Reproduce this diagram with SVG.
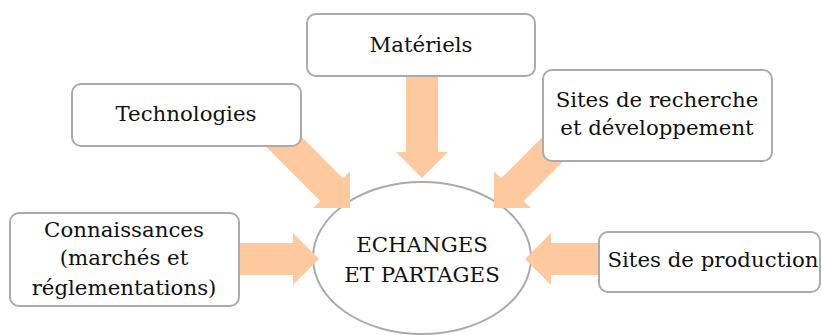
<svg xmlns="http://www.w3.org/2000/svg" width="822" height="335" viewBox="0 0 822 335">
<style>
.box{fill:#fff;stroke:#ABABAB;stroke-width:2}
.arrow{fill:#FFC99F;stroke:none}
.t{font-family:"DejaVu Serif","Liberation Serif",serif;font-size:21.3px;fill:#111;text-anchor:middle}
</style>
<rect width="822" height="335" fill="#fff"/>
<g id="center">
<ellipse cx="422" cy="258" rx="109" ry="76" fill="#fff" stroke="#ABABAB" stroke-width="2"/>
<text class="t" x="422" y="252">ECHANGES</text>
<text class="t" x="422" y="282">ET PARTAGES</text>
</g>
<g id="connectors">
<polygon class="arrow" points="406,70 438,70 438,152 448,152 422,178 396,152 406,152"/>
<polygon class="arrow" points="235,243 293,243 293,233 319,259 293,285 293,275 235,275"/>
<polygon class="arrow" points="603,243 551,243 551,233 525,259 551,285 551,275 603,275"/>
<polygon class="arrow" points="281.31,116.69 342.93,178.31 350,171.24 350,208 313.24,208 320.31,200.93 258.69,139.31"/>
<polygon class="arrow" points="548.69,130.69 501.07,178.31 494,171.24 494,208 530.76,208 523.69,200.93 571.31,153.31"/>
</g>
<g id="materiels">
<rect class="box" x="307" y="14" width="228" height="62" rx="9"/>
<text class="t" x="421" y="52">Matériels</text>
</g>
<g id="technologies">
<rect class="box" x="72" y="84" width="229" height="62" rx="9"/>
<text class="t" x="186" y="121">Technologies</text>
</g>
<g id="recherche">
<rect class="box" x="543" y="70" width="229" height="91" rx="9"/>
<text class="t" x="657" y="107">Sites de recherche</text>
<text class="t" x="657" y="135">et développement</text>
</g>
<g id="connaissances">
<rect class="box" x="10" y="213" width="229" height="93" rx="9"/>
<text class="t" x="124" y="237">Connaissances</text>
<text class="t" x="124" y="265">(marchés et</text>
<text class="t" x="124" y="295">réglementations)</text>
</g>
<g id="production">
<rect class="box" x="599" y="232" width="221" height="60" rx="9"/>
<text class="t" x="713" y="267">Sites de production</text>
</g>
</svg>
